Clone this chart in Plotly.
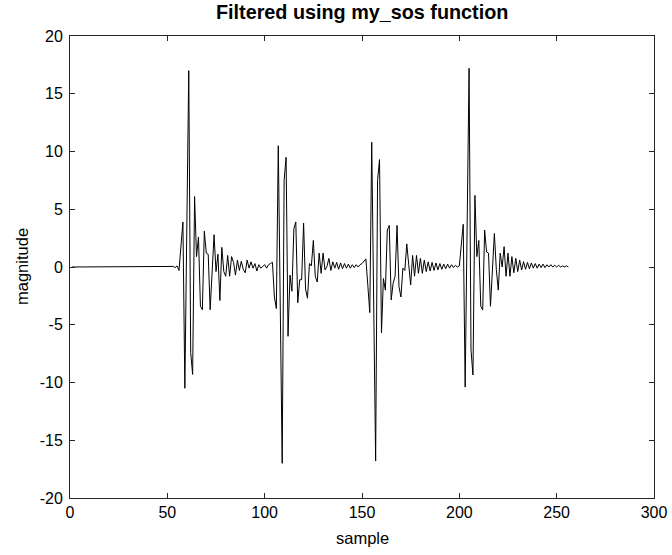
import plotly.graph_objects as go

# sample indices 1..256
samples = list(range(1, 257))

# quiet lead-in (samples 1..52)
lead_in = [0.0] * 52

# burst 1 (samples 53..100)
burst1 = [0.05, -0.05, 0.1, -0.3, 1.8, 3.9, -10.5, 3.0, 17.0, -7.4,
          -9.3, 6.1, 0.9, 2.6, -3.4, -3.7, 3.1, 1.2, 1.1, -3.7,
          0.2, 2.8, -0.4, 1.1, -2.9, 1.7, -0.4, -0.8, 1.0, -0.8,
          0.9, 0.4, -0.7, 0.6, -0.3, 0.5, -0.2, -0.5, 0.6, -0.1,
          0.45, -0.1, 0.3, -0.35, 0.2, -0.1, 0.05, 0.2]

# burst 2 (samples 101..148)
burst2 = [-0.1, 0.2, 0.3, 0.4, -2.6, -3.6, 10.5, -3.0, -17.0, 7.5,
          9.5, -6.0, -0.7, -2.1, 3.3, 3.9, -3.1, -1.1, -1.1, 3.8,
          -1.9, -2.7, 0.3, 0.1, 2.3, -0.8, -1.3, 1.2, -0.55, 1.2,
          -0.25, 0.05, 0.75, -0.3, 0.45, -0.1, 0.4, -0.2, 0.35, -0.15,
          0.3, -0.1, 0.25, -0.1, 0.2, -0.05, 0.2, 0.0]

# burst 3 (samples 149..196)
burst3 = [0.2, 0.3, 0.5, 0.7, -1.6, -3.95, 10.8, -3.0, -16.8, 7.5,
          9.3, -5.7, -1.0, -2.0, 3.2, 3.6, -2.85, -1.4, -0.8, 3.6,
          -1.7, -2.6, -0.1, -0.3, 2.0, 0.2, -1.55, 1.0, -0.8, 1.0,
          -0.55, 0.75, -0.55, 0.6, -0.4, 0.45, -0.35, 0.4, -0.3, 0.35,
          -0.25, 0.3, -0.2, 0.25, -0.15, 0.25, -0.1, 0.2]

# burst 4 (samples 197..256)
burst4 = [-0.05, 0.15, 0.0, 0.1, 2.0, 3.7, -10.4, 3.0, 17.2, -7.2,
          -9.35, 6.2, 0.9, 2.3, -3.4, -3.7, 3.2, 1.3, 1.2, -3.4,
          0.0, 2.9, -0.2, -2.0, 1.2, 0.0, 1.76, -0.8, 1.2, -0.8,
          0.9, -0.5, 0.75, -0.4, 0.6, -0.26, 0.46, -0.2, 0.4, -0.15,
          0.35, -0.1, 0.3, -0.1, 0.25, -0.05, 0.25, -0.05, 0.2, 0.0,
          0.2, 0.0, 0.15, 0.0, 0.15, 0.0, 0.1, 0.0, 0.1, 0.0]

magnitude = lead_in + burst1 + burst2 + burst3 + burst4

x_ticks = [0, 50, 100, 150, 200, 250, 300]
y_ticks = [-20, -15, -10, -5, 0, 5, 10, 15, 20]
y_tick_labels = ["-20", "-15", "-10", "-5", "0", "5", "10", "15", "20"]

FONT = "Liberation Sans, Arial, Helvetica, sans-serif"

fig = go.Figure()
fig.add_trace(go.Scatter(x=samples, y=magnitude, mode="lines",
                         line=dict(color="black", width=1), showlegend=False,
                         hoverinfo="skip"))

axis_common = dict(
    showline=True, linecolor="#262626", linewidth=1, mirror="ticks",
    ticks="inside", ticklen=5, tickcolor="#262626", tickwidth=1,
    showgrid=False, zeroline=False, automargin=False,
    tickfont=dict(family=FONT, size=16, color="black"),
)

fig.update_layout(
    template="none",
    width=672, height=555,
    margin=dict(l=70, r=18, t=36, b=57, pad=0),
    paper_bgcolor="white", plot_bgcolor="white",
    xaxis=dict(range=[0, 300], tickvals=x_ticks, **axis_common),
    yaxis=dict(range=[-20, 20], tickvals=y_ticks, ticktext=y_tick_labels,
               ticklabelstandoff=3, **axis_common),
    annotations=[
        dict(text="<b>Filtered using my_sos function</b>", x=0.5, y=1 + 24 / 462,
             xref="paper", yref="paper", xanchor="center", yanchor="middle",
             showarrow=False, font=dict(family=FONT, size=19.8, color="black")),
        dict(text="sample", x=0.5, y=-40 / 462, xref="paper", yref="paper",
             xanchor="center", yanchor="middle", showarrow=False,
             font=dict(family=FONT, size=16.5, color="black")),
        dict(text="magnitude", x=-48 / 584, y=0.5, xref="paper", yref="paper",
             xanchor="center", yanchor="middle", showarrow=False, textangle=-90,
             font=dict(family=FONT, size=16.5, color="black")),
    ],
)

fig.write_html(
    "out.html",
    config={"displayModeBar": False, "staticPlot": True},
    post_script="document.body.style.margin='0';document.body.style.overflow='hidden';",
)
